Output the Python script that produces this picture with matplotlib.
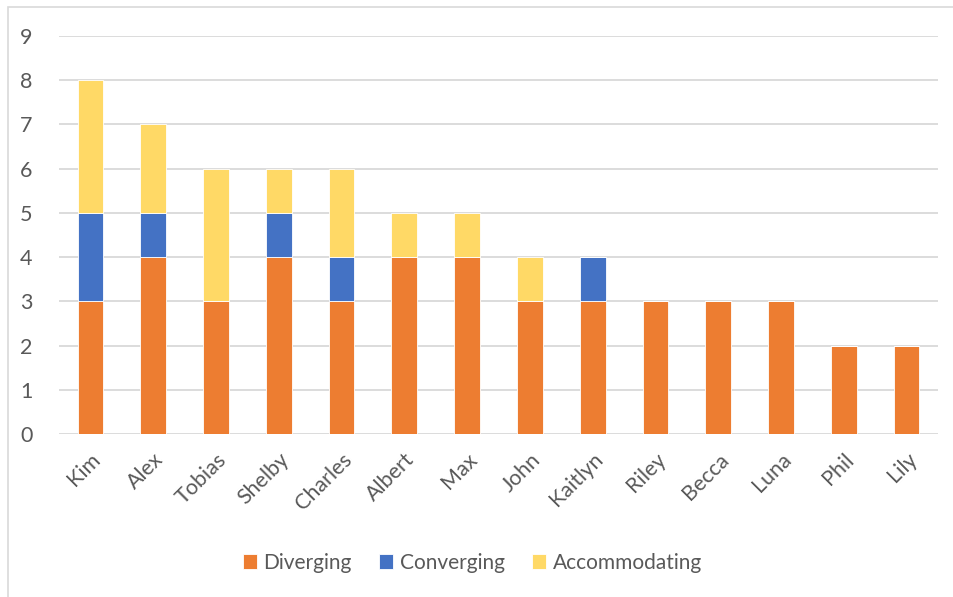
import matplotlib.pyplot as plt
import numpy as np
from matplotlib.patches import Rectangle

plt.rcParams['font.family'] = ['Lato', 'DejaVu Sans']

names = ['Kim', 'Alex', 'Tobias', 'Shelby', 'Charles', 'Albert', 'Max',
         'John', 'Kaitlyn', 'Riley', 'Becca', 'Luna', 'Phil', 'Lily']
diverging = [3, 4, 3, 4, 3, 4, 4, 3, 3, 3, 3, 3, 2, 2]
converging = [2, 1, 0, 1, 1, 0, 0, 0, 1, 0, 0, 0, 0, 0]
accommodating = [3, 2, 3, 1, 2, 1, 1, 1, 0, 0, 0, 0, 0, 0]

col_div = '#ED7D31'
col_con = '#4472C4'
col_acc = '#FFD966'
text_col = '#595959'
grid_col = '#D9D9D9'

fig = plt.figure(figsize=(9.54, 5.97), dpi=100)
ax = fig.add_axes([59 / 954, 1 - 434 / 597, 879 / 954, 398 / 597])

x = np.arange(len(names))
d = np.array(diverging)
c = np.array(converging)
a = np.array(accommodating)
w = 0.41
ax.bar(x, d, width=w, color=col_div, edgecolor='white', linewidth=0.6, label='Diverging', zorder=3)
ax.bar(x, c, width=w, bottom=d, color=col_con, edgecolor='white', linewidth=0.6, label='Converging', zorder=3)
ax.bar(x, a, width=w, bottom=d + c, color=col_acc, edgecolor='white', linewidth=0.6, label='Accommodating', zorder=3)

ax.set_xlim(-0.5, len(names) - 0.5)
ax.set_ylim(0, 9)
ax.set_yticks(range(0, 10))
ax.grid(axis='y', color=grid_col, linewidth=1.3, zorder=0)
ax.set_axisbelow(True)
for s in ax.spines.values():
    s.set_visible(False)
ax.tick_params(axis='both', length=0, colors=text_col, labelsize=15.5)
ax.tick_params(axis='y', pad=19)
ax.set_xticks(x)
ax.set_xticklabels(names, rotation=45, ha='right', rotation_mode='anchor')
ax.tick_params(axis='x', pad=11)

ax.legend(loc='center', bbox_to_anchor=(0.495, 0.057), bbox_transform=fig.transFigure,
          ncol=3, frameon=False, fontsize=15, labelcolor=text_col,
          handlelength=0.7, handleheight=0.7, handletextpad=0.3, columnspacing=1.3)

fig.patches.append(Rectangle((8 / 954, -0.1), 1.2, 1 - 7 / 597 + 0.1, transform=fig.transFigure,
                             fill=False, edgecolor=grid_col, linewidth=1.2))

fig.savefig('out.png', dpi=100)
